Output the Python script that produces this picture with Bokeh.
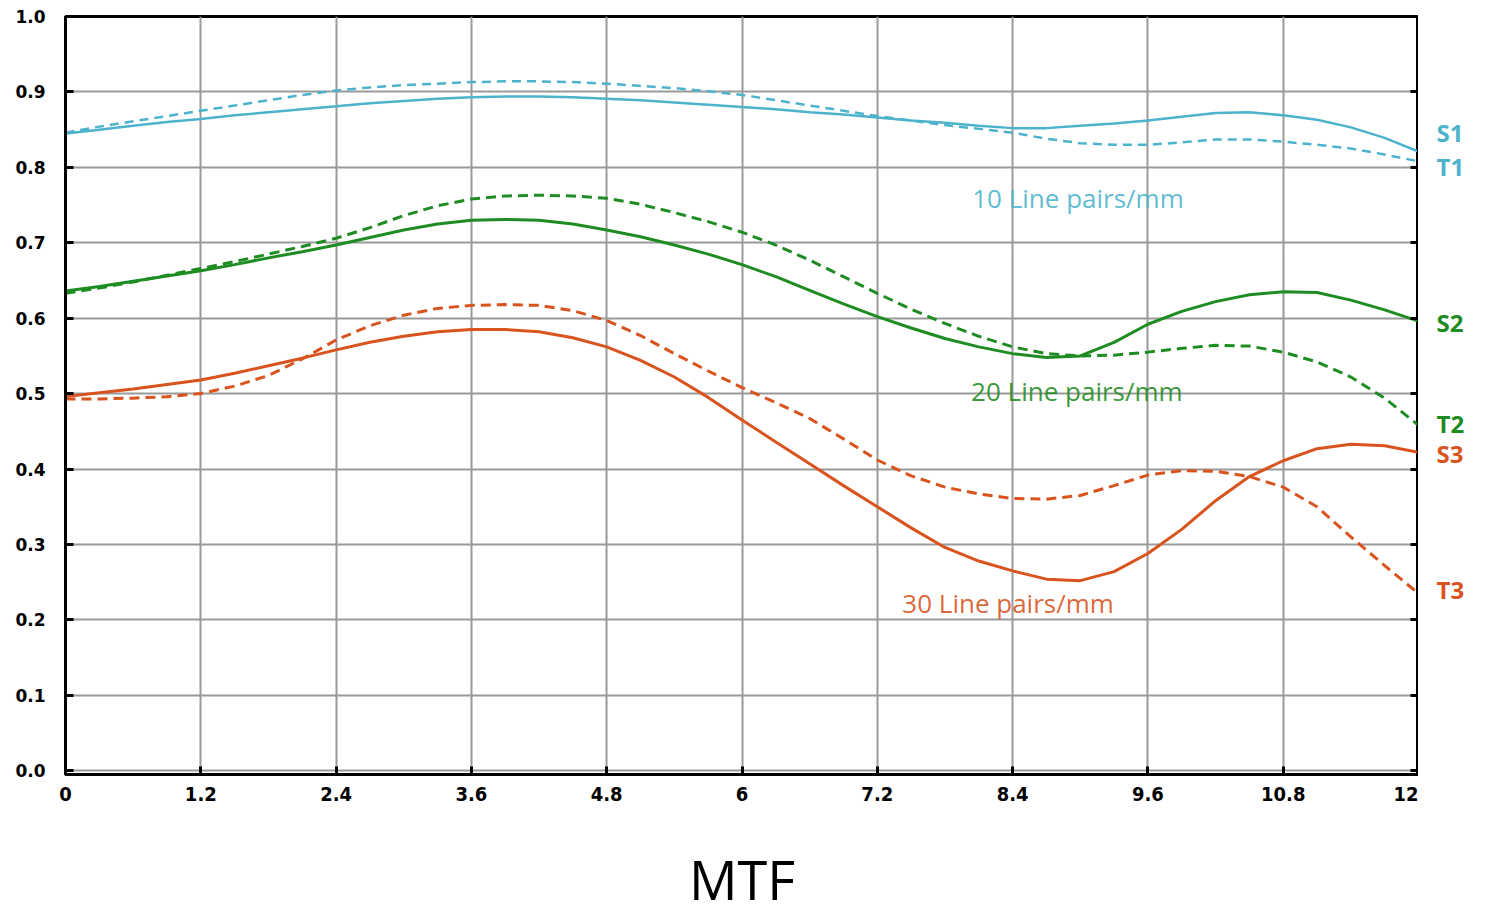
from bokeh.plotting import figure
from bokeh.models import FixedTicker, LinearAxis, Label, Range1d
from bokeh.layouts import row
from bokeh.core.properties import value
from bokeh.embed import file_html
from bokeh.resources import INLINE

# ---- data ----
x_vals = [0.0, 0.3, 0.6, 0.9, 1.2, 1.5, 1.8, 2.1, 2.4, 2.7, 3.0, 3.3, 3.6, 3.9, 4.2,
          4.5, 4.8, 5.1, 5.4, 5.7, 6.0, 6.3, 6.6, 6.9, 7.2, 7.5, 7.8, 8.1, 8.4, 8.7,
          9.0, 9.3, 9.6, 9.9, 10.2, 10.5, 10.8, 11.1, 11.4, 11.7, 12.0]

s1 = [0.845, 0.850, 0.855, 0.860, 0.864, 0.869, 0.873, 0.877, 0.881, 0.885, 0.888,
      0.891, 0.893, 0.894, 0.894, 0.893, 0.891, 0.889, 0.886, 0.883, 0.880, 0.877,
      0.873, 0.870, 0.866, 0.862, 0.859, 0.855, 0.852, 0.852, 0.855, 0.858, 0.862,
      0.867, 0.872, 0.873, 0.869, 0.863, 0.853, 0.839, 0.821]
t1 = [0.846, 0.854, 0.861, 0.868, 0.875, 0.882, 0.889, 0.896, 0.902, 0.906, 0.909,
      0.911, 0.913, 0.914, 0.914, 0.913, 0.911, 0.908, 0.905, 0.901, 0.896, 0.889,
      0.882, 0.875, 0.868, 0.862, 0.856, 0.851, 0.846, 0.838, 0.832, 0.830, 0.830,
      0.833, 0.837, 0.837, 0.834, 0.830, 0.825, 0.817, 0.808]
s2 = [0.636, 0.642, 0.649, 0.656, 0.663, 0.671, 0.680, 0.688, 0.697, 0.707, 0.717,
      0.725, 0.730, 0.731, 0.730, 0.725, 0.717, 0.708, 0.697, 0.685, 0.671, 0.655,
      0.637, 0.619, 0.602, 0.587, 0.573, 0.562, 0.553, 0.548, 0.550, 0.568, 0.592,
      0.609, 0.622, 0.631, 0.635, 0.634, 0.624, 0.611, 0.596]
t2 = [0.633, 0.640, 0.648, 0.657, 0.666, 0.675, 0.685, 0.695, 0.706, 0.720, 0.736,
      0.749, 0.758, 0.762, 0.763, 0.762, 0.759, 0.751, 0.740, 0.728, 0.714, 0.697,
      0.677, 0.655, 0.633, 0.612, 0.593, 0.576, 0.562, 0.553, 0.550, 0.551, 0.555,
      0.560, 0.564, 0.563, 0.555, 0.542, 0.522, 0.494, 0.458]
s3 = [0.496, 0.501, 0.506, 0.512, 0.518, 0.527, 0.537, 0.547, 0.558, 0.568, 0.576,
      0.582, 0.585, 0.585, 0.582, 0.574, 0.562, 0.544, 0.522, 0.495, 0.465, 0.436,
      0.407, 0.378, 0.350, 0.322, 0.296, 0.278, 0.265, 0.254, 0.252, 0.264, 0.288,
      0.320, 0.358, 0.390, 0.411, 0.427, 0.433, 0.431, 0.422]
t3 = [0.493, 0.493, 0.494, 0.496, 0.500, 0.510, 0.524, 0.546, 0.571, 0.590, 0.604,
      0.613, 0.617, 0.618, 0.617, 0.610, 0.597, 0.577, 0.553, 0.530, 0.508, 0.488,
      0.467, 0.440, 0.412, 0.391, 0.376, 0.367, 0.361, 0.360, 0.365, 0.378, 0.392,
      0.398, 0.397, 0.390, 0.376, 0.350, 0.310, 0.272, 0.235]

x_ticks = [0, 1.2, 2.4, 3.6, 4.8, 6, 7.2, 8.4, 9.6, 10.8, 12]
x_tick_labels = ["0", "1.2", "2.4", "3.6", "4.8", "6", "7.2", "8.4", "9.6", "10.8", "12"]
y_ticks = [0.0, 0.1, 0.2, 0.3, 0.4, 0.5, 0.6, 0.7, 0.8, 0.9, 1.0]
y_tick_labels = ["0.0", "0.1", "0.2", "0.3", "0.4", "0.5", "0.6", "0.7", "0.8", "0.9", "1.0"]

group_names = ["10 Line pairs/mm", "20 Line pairs/mm", "30 Line pairs/mm"]
end_names = ["S1", "T1", "S2", "T2", "S3", "T3"]

CYAN = "#4db3cc"
GREEN = "#1e8c22"
ORANGE = "#d9531e"

FH = 758
yr = Range1d(-0.005, 1.0)

p = figure(frame_width=1353, frame_height=FH,
           min_border_left=65, min_border_top=16, min_border_right=0,
           x_range=Range1d(0, 12), y_range=yr,
           output_backend="svg", toolbar_location=None,
           background_fill_color="white", border_fill_color="white")

p.outline_line_color = "black"
p.outline_line_width = 3

p.xgrid.ticker = FixedTicker(ticks=x_ticks)
p.ygrid.ticker = FixedTicker(ticks=y_ticks)
p.grid.grid_line_color = "#9a9a9a"
p.grid.grid_line_width = 2

xa = p.xaxis[0]
xa.ticker = FixedTicker(ticks=x_ticks)
xa.major_label_overrides = {t: l for t, l in zip(x_ticks, x_tick_labels)}
xa.major_label_text_font = "DejaVu Sans Condensed, Liberation Sans"
xa.major_label_text_font_style = "bold"
xa.major_label_text_font_size = "20px"
xa.major_label_text_color = "black"
xa.major_label_standoff = 12
xa.major_tick_in = 8
xa.major_tick_out = 0
xa.major_tick_line_width = 3
xa.minor_tick_line_color = None
xa.axis_line_width = 3
xa.axis_label = "MTF"
xa.axis_label_text_font = "Open Sans"
xa.axis_label_text_font_style = "normal"
xa.axis_label_text_font_size = "54px"
xa.axis_label_text_color = "black"
xa.axis_label_standoff = 38

ya = p.yaxis[0]
ya.ticker = FixedTicker(ticks=y_ticks)
ya.major_label_overrides = {t: l for t, l in zip(y_ticks, y_tick_labels)}
ya.major_label_text_font = "DejaVu Sans"
ya.major_label_text_font_style = "bold"
ya.major_label_text_font_size = "17px"
ya.major_label_text_color = "black"
ya.major_label_standoff = 20
ya.major_tick_in = 8
ya.major_tick_out = 0
ya.major_tick_line_width = 3
ya.minor_tick_line_color = None
ya.axis_line_width = 3

ra = LinearAxis(ticker=FixedTicker(ticks=y_ticks),
                major_label_overrides={t: "" for t in y_ticks},
                major_tick_in=8, major_tick_out=0, major_tick_line_width=3,
                minor_tick_line_color=None, axis_line_width=3, major_label_standoff=0)
p.add_layout(ra, "right")

p.line(x_vals, s1, line_color=CYAN, line_width=2.5)
p.line(x_vals, t1, line_color=CYAN, line_width=2.5, line_dash="9 6")
p.line(x_vals, s2, line_color=GREEN, line_width=3)
p.line(x_vals, t2, line_color=GREEN, line_width=3, line_dash="10 6")
p.line(x_vals, s3, line_color=ORANGE, line_width=3)
p.line(x_vals, t3, line_color=ORANGE, line_width=3, line_dash="10 6")

for name, gx, gy, col in zip(group_names, [8.98, 8.97, 8.36], [0.759, 0.503, 0.223],
                             [CYAN, GREEN, ORANGE]):
    p.add_layout(Label(x=gx, y=gy, text=name, text_color=col, text_font="Open Sans",
                       text_font_size="26px", text_align="center", text_baseline="middle",
                       text_alpha=0.9))

# side panel with end labels
p2 = figure(frame_width=62, frame_height=FH, min_border_left=0, min_border_right=0,
            min_border_top=16, min_border_bottom=0,
            x_range=Range1d(0, 62), y_range=yr,
            output_backend="svg", toolbar_location=None,
            background_fill_color="white", border_fill_color="white")
p2.axis.visible = False
p2.grid.visible = False
p2.outline_line_color = None

end_y = [0.846, 0.801, 0.594, 0.460, 0.420, 0.240]
end_cols = [CYAN, CYAN, GREEN, GREEN, ORANGE, ORANGE]
p2.text(x=[18] * 6, y=end_y, text=end_names, text_color=end_cols,
        text_font=value("Open Sans"), text_font_style="bold",
        text_font_size="24px", text_align="left", text_baseline="middle")

layout = row(p, p2, spacing=0)
open("out.html", "w").write(file_html(layout, INLINE))
